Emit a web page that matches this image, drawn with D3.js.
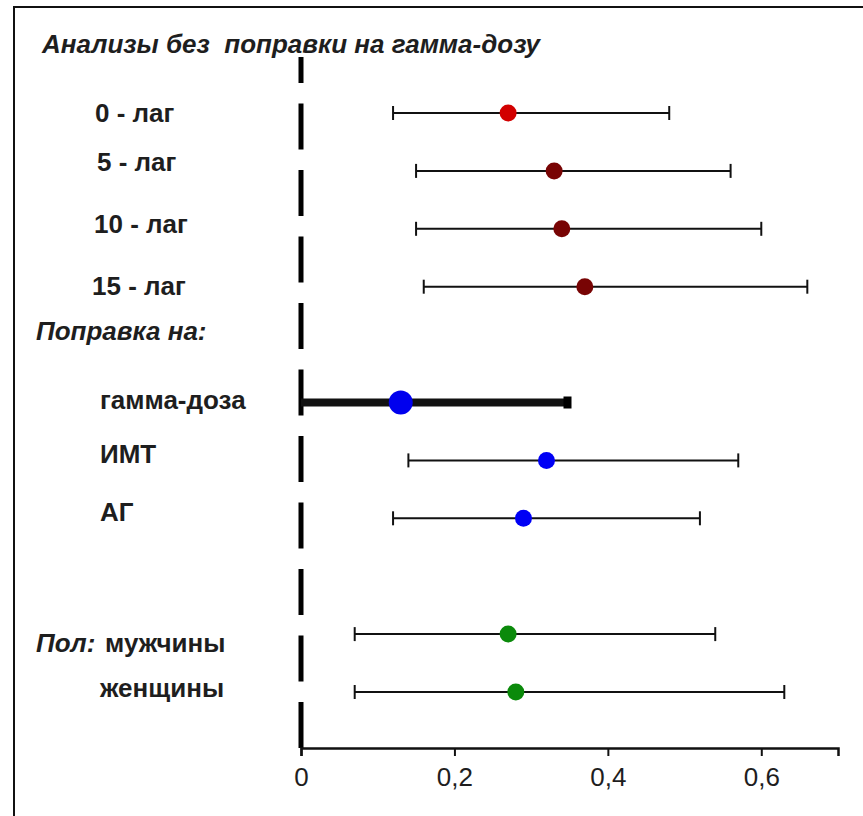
<!DOCTYPE html>
<html>
<head>
<meta charset="utf-8">
<script src="https://cdn.jsdelivr.net/npm/d3@7"></script>
<style>
  body { margin: 0; background: #fff; }
  text { font-family: "Liberation Sans", Arial, sans-serif; fill: #1e1e1e; }
</style>
</head>
<body>
<script>
// rows of the forest plot, top to bottom
var rowLabels = ["0 - лаг", "5 - лаг", "10 - лаг", "15 - лаг", "гамма-доза", "ИМТ", "АГ", "мужчины", "женщины"];
var rowSlots = [0, 1, 2, 3, 5, 6, 7, 9, 10];
var estimates = [0.27, 0.33, 0.34, 0.37, 0.13, 0.32, 0.29, 0.27, 0.28];
var lower = [0.12, 0.15, 0.15, 0.16, 0.00, 0.14, 0.12, 0.07, 0.07];
var upper = [0.48, 0.56, 0.60, 0.66, 0.35, 0.57, 0.52, 0.54, 0.63];
var groups = ["lag0", "lag", "lag", "lag", "gamma", "adj", "adj", "sex", "sex"];

// axis ticks
var tickValues = [0, 0.2, 0.4, 0.6];
var tickLabels = ["0", "0,2", "0,4", "0,6"];

// section headings
var titleText = "Анализы без  поправки на гамма-дозу";
var adjustHeading = "Поправка на:";
var sexHeading = "Пол:";

var colors = {lag0: "#d20000", lag: "#780404", gamma: "#0000ee", adj: "#0000f5", sex: "#0b8a0b"};

// label placement (text layout only)
var labelX = [95, 97, 94, 92, 100, 100, 100, 105, 100];
var labelNudge = [0, -9, -5, -1, -3, -7, -6, 9, -4];

var width = 863, height = 816;

var x = d3.scaleLinear().domain([0, 0.7]).range([301, 838]);
var y = d3.scaleLinear().domain([0, 10]).range([113, 692]);
var axisY = 748;

var data = rowLabels.map(function(d, i) {
    return {label: d, slot: rowSlots[i], est: estimates[i], lo: lower[i], hi: upper[i], group: groups[i]};
});

var svg = d3.select("body")
    .append("svg")
    .attr("width", width)
    .attr("height", height);

// frame (left and top edges)
svg.append("path")
    .attr("d", "M14," + height + "V7H" + width)
    .attr("fill", "none")
    .attr("stroke", "#111")
    .attr("stroke-width", 2);

// title
svg.append("text")
    .attr("x", 42)
    .attr("y", 44)
    .attr("dy", "0.35em")
    .style("font-size", "26px")
    .style("font-weight", "bold")
    .style("font-style", "italic")
    .style("white-space", "pre")
    .text(titleText);

// dashed reference line at zero
svg.append("line")
    .attr("x1", x(0)).attr("x2", x(0))
    .attr("y1", axisY).attr("y2", 57)
    .attr("stroke", "#000")
    .attr("stroke-width", 5)
    .attr("stroke-dasharray", "46,20.5");

// x axis
var axis = svg.append("g")
    .attr("transform", "translate(0," + axisY + ")")
    .call(d3.axisBottom(x)
        .tickValues(tickValues)
        .tickFormat(function(d, i) { return tickLabels[i]; })
        .tickSizeOuter(0)
        .tickSize(8)
        .tickPadding(12));

axis.select(".domain").attr("stroke", "#111").attr("stroke-width", 2.5);
axis.selectAll(".tick line").attr("stroke", "#111").attr("stroke-width", 2);
axis.selectAll(".tick text")
    .style("font-size", "26px")
    .style("font-family", "'Liberation Sans', Arial, sans-serif")
    .attr("fill", "#333");

// error bars
var rows = svg.selectAll(".row")
    .data(data)
    .enter()
    .append("g")
    .attr("class", "row");

rows.append("line")
    .attr("x1", function(d) { return x(d.lo); })
    .attr("x2", function(d) { return x(d.hi); })
    .attr("y1", function(d) { return y(d.slot); })
    .attr("y2", function(d) { return y(d.slot); })
    .attr("stroke", "#111")
    .attr("stroke-width", function(d) { return d.group == "gamma" ? 8 : 2; });

// caps
rows.filter(function(d) { return d.group != "gamma"; })
    .selectAll(".cap")
    .data(function(d) { return [{v: d.lo, slot: d.slot}, {v: d.hi, slot: d.slot}]; })
    .enter()
    .append("line")
    .attr("class", "cap")
    .attr("x1", function(d) { return x(d.v); })
    .attr("x2", function(d) { return x(d.v); })
    .attr("y1", function(d) { return y(d.slot) - 7; })
    .attr("y2", function(d) { return y(d.slot) + 7; })
    .attr("stroke", "#111")
    .attr("stroke-width", 2);

// square end for the thick bar
rows.filter(function(d) { return d.group == "gamma"; })
    .append("rect")
    .attr("x", function(d) { return x(d.hi) - 6; })
    .attr("y", function(d) { return y(d.slot) - 6; })
    .attr("width", 8)
    .attr("height", 12)
    .attr("fill", "#000");

// point estimates
rows.append("circle")
    .attr("cx", function(d) { return x(d.est); })
    .attr("cy", function(d) { return y(d.slot); })
    .attr("r", function(d) { return d.group == "gamma" ? 12 : 8.5; })
    .attr("fill", function(d) { return colors[d.group]; });

// row labels
rows.append("text")
    .attr("x", function(d, i) { return labelX[i]; })
    .attr("y", function(d, i) { return y(d.slot) + labelNudge[i]; })
    .attr("dy", "0.35em")
    .style("font-size", "26px")
    .style("font-weight", "bold")
    .text(function(d) { return d.label; });

// section headings
svg.append("text")
    .attr("x", 36)
    .attr("y", 331)
    .attr("dy", "0.35em")
    .style("font-size", "26px")
    .style("font-weight", "bold")
    .style("font-style", "italic")
    .text(adjustHeading);

svg.append("text")
    .attr("x", 36)
    .attr("y", y(9) + 9)
    .attr("dy", "0.35em")
    .style("font-size", "26px")
    .style("font-weight", "bold")
    .style("font-style", "italic")
    .text(sexHeading);
</script>
</body>
</html>
